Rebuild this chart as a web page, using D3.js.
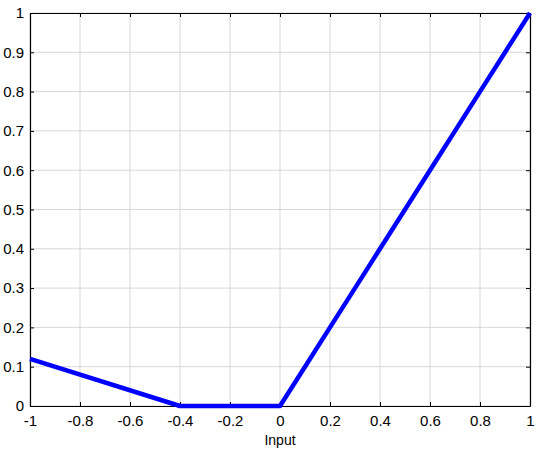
<!DOCTYPE html>
<html>
<head>
<meta charset="utf-8">
<script src="https://cdn.jsdelivr.net/npm/d3@7"></script>
<style>
  body { margin: 0; background: #fff; }
  text { font-family: "Liberation Sans", Arial, sans-serif; }
</style>
</head>
<body>
<div id="chart"></div>
<script>
// data
var inputs = [-1, -0.4, 0, 0.1, 0.2, 0.3, 0.4, 0.6, 0.8, 1];
var outputs = [0.12, 0, 0, 0.1, 0.2, 0.3, 0.4, 0.6, 0.8, 1];
var xTicks = [-1, -0.8, -0.6, -0.4, -0.2, 0, 0.2, 0.4, 0.6, 0.8, 1];
var yTicks = [0, 0.1, 0.2, 0.3, 0.4, 0.5, 0.6, 0.7, 0.8, 0.9, 1];
var xTitle = "Input";

var margin = {top: 13, right: 12, bottom: 52, left: 30},
    width = 542 - margin.left - margin.right,
    height = 458 - margin.top - margin.bottom;

var svg = d3.select("#chart").append("svg")
    .attr("width", 542)
    .attr("height", 458)
    .append("g")
    .attr("transform", "translate(" + margin.left + "," + margin.top + ")");

var x = d3.scaleLinear().domain([-1, 1]).range([0, width]);
var y = d3.scaleLinear().domain([0, 1]).range([height, 0]);

// plain hyphen minus, like the original
var fmt = function (d) { return String(+d.toFixed(1)); };

// grid
svg.append("g")
    .selectAll("line")
    .data(xTicks)
    .enter().append("line")
    .attr("x1", function (d) { return x(d); })
    .attr("x2", function (d) { return x(d); })
    .attr("y1", 0)
    .attr("y2", height)
    .attr("stroke", "#d8d8d8")
    .attr("stroke-width", 1);

svg.append("g")
    .selectAll("line")
    .data(yTicks)
    .enter().append("line")
    .attr("y1", function (d) { return y(d); })
    .attr("y2", function (d) { return y(d); })
    .attr("x1", 0)
    .attr("x2", width)
    .attr("stroke", "#d8d8d8")
    .attr("stroke-width", 1);

// axes (ticks pointing inward)
var axBottom = svg.append("g")
    .attr("transform", "translate(0," + height + ")")
    .call(d3.axisBottom(x).tickValues(xTicks).tickSizeInner(-4).tickSizeOuter(0).tickPadding(9).tickFormat(fmt));
var axLeft = svg.append("g")
    .call(d3.axisLeft(y).tickValues(yTicks).tickSizeInner(-4).tickSizeOuter(0).tickPadding(9).tickFormat(fmt));
var axTop = svg.append("g")
    .call(d3.axisTop(x).tickValues(xTicks).tickSizeInner(-4).tickSizeOuter(0).tickFormat(""));
var axRight = svg.append("g")
    .attr("transform", "translate(" + width + ",0)")
    .call(d3.axisRight(y).tickValues(yTicks).tickSizeInner(-4).tickSizeOuter(0).tickFormat(""));

[axBottom, axLeft, axTop, axRight].forEach(function (g) {
    g.select(".domain").attr("stroke", "#000").attr("stroke-width", 1.2);
    g.selectAll(".tick line").attr("stroke", "#000");
    g.selectAll(".tick text").style("font-size", "15px").attr("fill", "#000");
});
axLeft.selectAll(".tick text").attr("dx", "3");

// the line
var valueline = d3.line()
    .x(function (d, i) { return x(inputs[i]); })
    .y(function (d, i) { return y(outputs[i]); });

svg.append("path")
    .datum(inputs)
    .attr("fill", "none")
    .attr("stroke", "#0000ff")
    .attr("stroke-width", 4.5)
    .attr("stroke-linejoin", "round")
    .attr("d", valueline);

// x label
svg.append("text")
    .attr("x", x(0))
    .attr("y", height + 39)
    .style("text-anchor", "middle")
    .style("font-size", "14px")
    .text(xTitle);
</script>
</body>
</html>
